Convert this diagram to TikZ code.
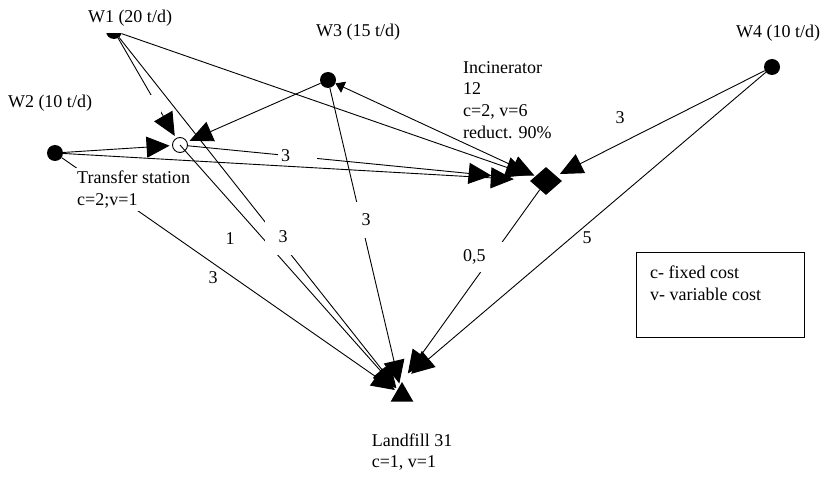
\documentclass[tikz,border=0pt]{standalone}
\usepackage{fontspec}
\setmainfont{Liberation Serif}
\usetikzlibrary{arrows.meta,shapes.geometric}
\begin{document}
\begin{tikzpicture}[x=1pt,y=-1pt,
  font=\fontsize{18}{21.7}\selectfont,
  >={Triangle[length=23pt,width=21pt]},
  flow/.style={line width=0.9pt,->},
  src/.style={circle,fill=black,minimum size=16pt,inner sep=0pt},
  gapbox/.style={fill=white,inner sep=0pt},
  info/.style={fill=white,align=left,anchor=north west,inner sep=3pt}]
\useasboundingbox (0,0) rectangle (824,478);

% sources, facilities
\node[src] (W1) at (114,31) {};
\node[src] (W2) at (55,153) {};
\node[src] (W3) at (328,80) {};
\node[src] (W4) at (772,67) {};
\node[circle,draw,fill=white,line width=0.9pt,minimum size=15pt,inner sep=0pt] (TS) at (180,145) {};
\node[diamond,fill=black,minimum width=32pt,minimum height=28pt,inner sep=0pt] (Inc) at (546,181) {};
\node[regular polygon,regular polygon sides=3,fill=black,minimum size=26pt,inner sep=0pt] (LF) at (402,395) {};

% flows into the transfer station
\draw[flow,shorten >=2.5pt] (W2) -- (TS);
\draw[flow,shorten >=2.5pt] (W1) -- (TS);
\draw[flow,shorten >=2.5pt] (W3) -- (TS);

% flows into the incinerator
\draw[flow,shorten >=17pt] (W2) -- (Inc);
\draw[flow,shorten >=40pt] (TS) -- (Inc);
\draw[flow,shorten >=6pt] (W1) -- (Inc);
\draw[flow,shorten >=1pt,{Triangle[length=9pt,width=12pt]}->] (W3) -- (Inc);
\draw[flow,shorten >=4pt] (W4) -- (Inc);

% flows into the landfill
\draw[flow,shorten >=2pt] (W2) -- (LF);
\draw[flow,shorten >=2pt] (TS.center) -- (LF);
\draw[flow,shorten >=2pt] (W1) -- (LF);
\draw[flow,shorten >=2pt] (W3) -- (LF);
\draw[flow,shorten >=10pt] (Inc) -- (LF.corner 1);
\draw[flow,shorten >=12pt] (W4) -- (LF.corner 1);

% cost labels on the links
\node[gapbox,minimum width=14pt,minimum height=21pt] (gW1TS) at (154,105.5) {};
\node[gapbox,text width=33pt,inner xsep=3pt,inner ysep=1pt,align=left] (cTSInc) at (297.5,156) {3};
\node[gapbox,minimum width=36pt,minimum height=36pt] (cW1LF) at (283,237) {3};
\node[gapbox,minimum width=20pt,minimum height=36pt] (cW3LF) at (366,220) {3};
\node[gapbox,text width=38pt,inner xsep=3pt,minimum height=30pt,align=left] (cIncLF) at (482,257) {0,5};
\node (cTSLF) at (230,239) {1};
\node (cW2LF) at (213,278) {3};
\node (cW4Inc) at (620,118) {3};
\node (cW4LF) at (587,238) {5};

% node captions
\node[fill=white,inner xsep=2pt,inner ysep=7pt] (tW1) at (130,18) {W1 (20 t/d)};
\node (tW2) at (50,103) {W2 (10 t/d)};
\node (tW3) at (358,32) {W3 (15 t/d)};
\node (tW4) at (778,33) {W4 (10 t/d)};
\node[info] (tTS) at (74,168) {Transfer station\\c=2;v=1};
\node[info] (tInc) at (460,58) {Incinerator\\12\\c=2, v=6\\reduct. 90\%};
\node[align=left] (tLF) at (412,452) {Landfill 31\\c=1, v=1};

% legend
\node[draw,line width=0.9pt,minimum width=168pt,minimum height=85pt,anchor=north west] (legend) at (636,252) {};
\node[align=left,anchor=north west,inner sep=0pt] (legendtext) at (650,266) {c- fixed cost\\v- variable cost};
\end{tikzpicture}
\end{document}
